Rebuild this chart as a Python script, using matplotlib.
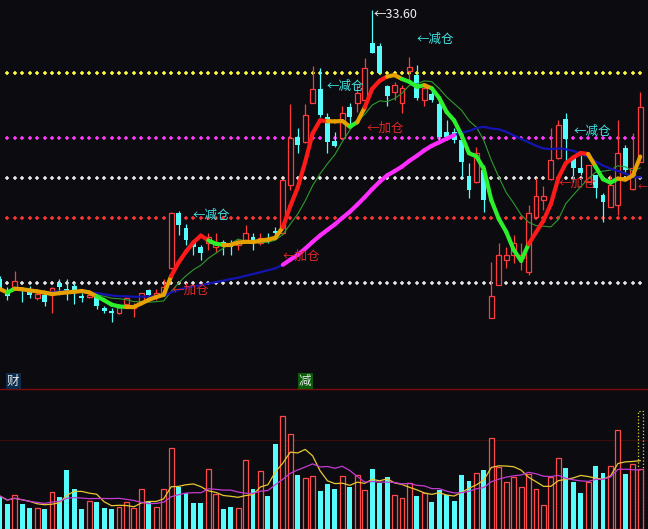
import numpy as np
import pandas as pd
import matplotlib
matplotlib.use('Agg')
import matplotlib.pyplot as plt
from matplotlib.collections import LineCollection

plt.rcParams['font.family'] = ['Noto Sans CJK SC', 'DejaVu Sans']

# daily candles
opens = [22.84, 22.40, 22.44, 22.44, 22.40, 22.08, 22.20, 22.20, 22.68, 22.44,
         22.56, 22.16, 22.12, 22.12, 21.68, 21.56, 21.48, 21.84, 21.68, 21.88,
         22.40, 22.12, 22.28, 23.28, 25.48, 24.88, 24.28, 24.12, 24.28, 24.12,
         24.32, 24.28, 24.20, 24.32, 24.52, 24.28, 24.44, 24.76, 24.68, 26.60,
         28.52, 28.32, 29.88, 30.44, 29.32, 28.36, 28.48, 29.72, 29.88, 30.00,
         32.28, 32.16, 30.56, 30.32, 29.88, 31.16, 31.00, 30.00, 30.24, 29.84,
         28.72, 28.72, 28.40, 26.96, 26.72, 27.20, 21.28, 22.60, 23.60, 23.80,
         23.68, 23.12, 25.32, 26.00, 26.84, 27.68, 29.24, 27.68, 27.28, 26.72,
         27.00, 26.20, 25.72, 25.80, 28.08, 26.44, 27.52]
highs = [22.96, 22.52, 23.16, 22.52, 22.56, 22.32, 22.32, 22.52, 22.84, 22.84,
         22.68, 22.28, 22.32, 22.16, 21.76, 21.68, 21.76, 22.12, 21.88, 22.28,
         22.44, 22.44, 22.84, 25.52, 25.56, 25.04, 24.40, 24.20, 24.68, 24.68,
         24.40, 24.40, 24.40, 25.00, 24.68, 24.68, 24.68, 24.92, 26.80, 29.84,
         28.88, 29.84, 31.36, 31.28, 29.48, 28.72, 29.76, 29.88, 30.60, 31.68,
         33.60, 32.28, 30.60, 30.72, 30.60, 31.72, 31.40, 30.60, 30.52, 30.00,
         29.20, 28.88, 28.72, 27.48, 28.12, 27.40, 23.52, 24.28, 24.12, 24.60,
         24.28, 25.80, 26.88, 26.56, 28.88, 29.20, 29.48, 27.80, 27.80, 27.40,
         27.00, 26.28, 27.00, 29.20, 28.20, 28.68, 30.32]
lows = [22.40, 22.00, 22.40, 21.92, 22.08, 22.00, 21.76, 21.48, 22.36, 22.00,
        21.84, 21.92, 22.08, 21.64, 21.48, 21.12, 21.44, 21.68, 21.32, 21.84,
        22.12, 22.00, 22.20, 23.24, 24.60, 24.20, 23.80, 23.60, 24.00, 23.92,
        23.80, 23.80, 24.00, 24.28, 24.00, 24.20, 24.28, 24.52, 24.64, 26.40,
        27.88, 28.28, 29.88, 29.32, 27.88, 28.12, 28.48, 29.00, 29.52, 29.60,
        31.88, 31.08, 29.76, 30.00, 29.48, 30.68, 30.00, 29.76, 29.92, 28.40,
        28.40, 28.28, 26.92, 26.08, 26.68, 25.52, 21.28, 22.60, 23.28, 23.48,
        23.20, 23.00, 25.28, 25.60, 26.80, 27.64, 27.52, 26.72, 27.00, 26.72,
        26.08, 25.12, 25.72, 25.40, 27.12, 26.40, 27.52]
closes = [22.44, 22.16, 22.76, 22.36, 22.20, 22.24, 21.92, 22.48, 22.52, 22.36,
          22.36, 22.08, 22.20, 21.76, 21.56, 21.48, 21.72, 22.08, 21.76, 22.28,
          22.20, 22.28, 22.52, 25.48, 25.00, 24.40, 24.12, 23.88, 24.52, 24.32,
          24.20, 24.12, 24.32, 24.68, 24.28, 24.48, 24.32, 24.68, 26.80, 28.48,
          28.20, 29.40, 30.44, 29.40, 28.32, 28.16, 29.48, 29.32, 30.28, 31.28,
          31.88, 31.08, 30.16, 30.60, 30.48, 31.32, 30.08, 30.48, 30.00, 28.52,
          28.52, 28.40, 27.52, 26.40, 27.88, 26.00, 22.16, 23.80, 23.80, 24.28,
          23.80, 25.48, 26.16, 26.16, 27.60, 29.00, 28.44, 27.28, 27.08, 27.40,
          26.48, 25.92, 26.60, 27.88, 27.20, 27.28, 29.72]
volumes = [33, 25, 34, 25, 21.3, 21, 20, 36.7, 32.3, 59,
           40, 20, 28, 27, 21.3, 20, 22.3, 26.7, 21, 40,
           27.7, 22.3, 40, 81, 42.3, 35.7, 26.3, 26.3, 60, 35,
           20, 22.3, 21, 69, 40, 58, 33.3, 85, 113, 95,
           54, 51, 53, 38, 45, 40, 53, 42.3, 54, 39,
           60, 45.7, 52, 34, 31, 45.7, 33.3, 36.3, 27, 39,
           34.3, 28.3, 54, 48.3, 55.7, 59, 90.7, 62.3, 47, 52.3,
           42.3, 55, 40, 23.7, 52.3, 70.7, 61.3, 47.3, 36.3, 46.7,
           63, 55.7, 63, 99, 55, 65, 59.7]
last_vol_estimate = 118

guide_levels = [31.08, 28.48, 26.88, 25.28, 22.68]
guide_colors = ['#ffff3c', '#ff3cff', '#e6e6e6', '#ff3434', '#e6e6e6']

# buy / sell hints: (candle position, price, text)
signals = [(25.9, 25.40, '←减仓'), (23.1, 22.40, '←加仓'), (43.9, 30.56, '←减仓'),
           (49.2, 28.88, '←加仓'), (56.0, 32.44, '←减仓'), (38.0, 23.76, '←加仓'),
           (77.1, 28.76, '←减仓'), (75.0, 26.68, '←加仓')]
edge_hint = (86.95, 26.52, '←')   # 加仓 hint cut by the right border, only the arrow shows

BG = '#0c0b10'
UP = '#ff3c3c'
DOWN = '#54fcfc'
ADD_RED = '#e02828'
CUT_CYAN = '#40e4e4'

n = len(closes)
x = np.arange(n)
o = np.array(opens)
h = np.array(highs)
l = np.array(lows)
c = np.array(closes)
up = c >= o

fig = plt.figure(figsize=(6.48, 5.29), dpi=100, facecolor=BG)
ax = fig.add_axes([0, 164 / 529, 1, 365 / 529], facecolor=BG)
axv = fig.add_axes([0, 0, 1, 159 / 529], facecolor=BG)
for a in (ax, axv):
    a.set_xlim(0.02, 87.04)
    a.axis('off')
ax.set_ylim(19.4, 34.0)
axv.set_ylim(0, 159)

# dotted guide levels
for lev, col in zip(guide_levels, guide_colors):
    ax.plot(x[1:], [lev] * (n - 1), ls='none', marker='+', ms=3.5, mew=1.1, color=col, zorder=1)

# candles
w = 0.66
body_lo = np.minimum(o, c)
body_hi = np.maximum(o, c)
body_h = np.maximum(body_hi - body_lo, 0.02)
ax.bar(x[up], body_h[up], w, bottom=body_lo[up], facecolor=BG, edgecolor=UP, linewidth=0.9, zorder=3)
ax.vlines(x[up], l[up], body_lo[up], color=UP, lw=0.9, zorder=3)
ax.vlines(x[up], body_hi[up], h[up], color=UP, lw=0.9, zorder=3)
ax.vlines(x[~up], l[~up], h[~up], color=DOWN, lw=0.9, zorder=3)
ax.bar(x[~up], body_h[~up], w, bottom=body_lo[~up], color=DOWN, linewidth=0, zorder=3)

# moving averages
cs = pd.Series(c)
ma5 = cs.rolling(5, min_periods=1).mean().values
ma10 = cs.rolling(10, min_periods=1).mean().values
ma30 = cs.rolling(30, min_periods=1).mean().values
ma30_full = cs.rolling(30).mean()

ax.plot(x, ma10, color='#2e9a2e', lw=0.8, zorder=4)
ax.plot(x, ma30, color='#1414b4', lw=1.6, zorder=4)

hot = ((ma30_full.diff() > 0.1) & (ma5 > ma30_full)).values
pts30 = np.column_stack([x, ma30])
hot_segs = [pts30[i:i + 2] for i in range(n - 1) if hot[i] and hot[i + 1]]
ax.add_collection(LineCollection(hot_segs, colors='#ff2cff', linewidths=3, capstyle='round', zorder=5))

d5 = np.diff(ma5, prepend=ma5[0])
seg_cols = []
for i in range(n - 1):
    if d5[i] > 0.18:
        seg_cols.append('#ff1a1a')
    elif d5[i] < -0.06:
        seg_cols.append('#2cf02c')
    else:
        seg_cols.append('#e6a000')
pts5 = np.column_stack([x, ma5])
segs5 = [pts5[i:i + 2] for i in range(n - 1)]
ax.add_collection(LineCollection(segs5, colors=seg_cols, linewidths=3, capstyle='round', zorder=6))

# annotations
for xi, price, txt in signals:
    col = CUT_CYAN if '减' in txt else ADD_RED
    ax.text(xi, price, txt, color=col, fontsize=9, va='center', ha='left', zorder=7)
ax.text(edge_hint[0], edge_hint[1], edge_hint[2], color=ADD_RED, fontsize=7,
        va='center', ha='right', zorder=7)
imax = int(np.argmax(h))
ax.annotate('←%.2f' % h[imax], xy=(imax, h[imax]), xytext=(1, -3), textcoords='offset points',
            color='#f0f0f0', fontsize=9, va='center', ha='left', zorder=7)

# volume panel
vol = np.array(volumes)
axv.axhline(140, color='#7a0c0c', lw=1)
axv.axhline(89, color='#3a0c0c', lw=0.8)
axv.bar(x[up], vol[up], w, facecolor=BG, edgecolor='#ff4a4a', linewidth=0.9, zorder=3)
axv.bar(x[~up], vol[~up], w, color=DOWN, linewidth=0, zorder=3)
axv.bar([x[-1]], [last_vol_estimate], w, facecolor='none', edgecolor='#d8d840', linestyle=':', linewidth=0.9, zorder=2)
vs = pd.Series(vol)
axv.plot(x, vs.rolling(5, min_periods=1).mean(), color='#e8c830', lw=0.9, zorder=4)
axv.plot(x, vs.rolling(10, min_periods=1).mean(), color='#c43cd0', lw=0.9, zorder=4)

fig.text(7 / 648, 1 - 381 / 529, '财', color='#e8e8e8', fontsize=9, va='center',
         bbox=dict(boxstyle='square,pad=0.1', fc='#0c2c4c', ec='none'))
fig.text(299 / 648, 1 - 381 / 529, '减', color='#e8e8e8', fontsize=9, va='center',
         bbox=dict(boxstyle='square,pad=0.1', fc='#0a5a0a', ec='none'))

fig.savefig('out.png', dpi=100, facecolor=BG)
